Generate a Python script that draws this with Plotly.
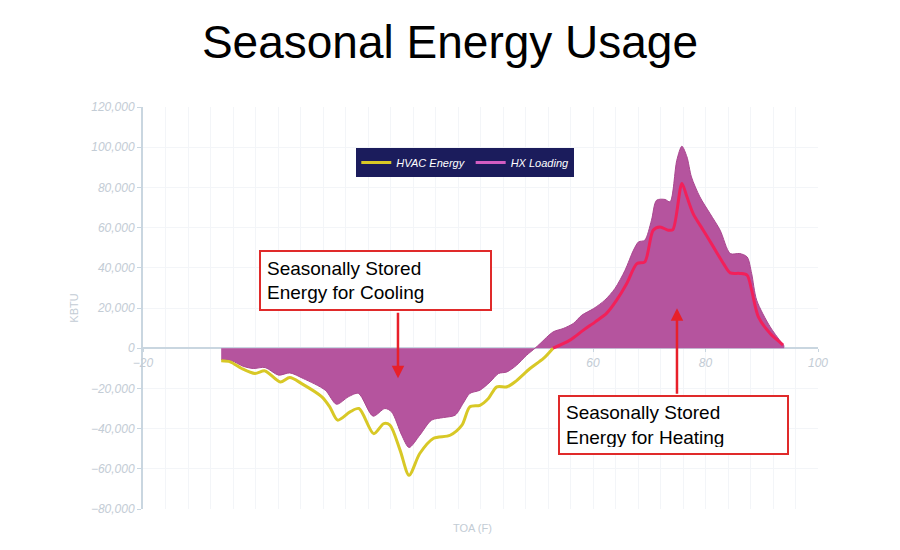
import plotly.graph_objects as go

# ---------------- data ----------------
hx_T = [-6.1, -4.2, -2.2, -0.4, 1.7, 4.1, 6.1, 8.5, 12.4, 14.4, 16.5, 18.3, 20.9, 23.0, 24.2,
        26.0, 27.3, 29.2, 31.3, 33.4, 35.5, 36.9, 38.1, 39.9, 41.7, 43.2, 44.7, 46.4, 48.2, 49.7,
        50.6, 52.9, 54.7, 56.5, 58.0, 60.1, 62.1, 63.9, 65.7, 67.2, 68.1, 69.2, 70.4, 71.3, 72.8,
        73.7, 74.9, 75.8, 76.7, 77.5, 79.0, 80.8, 82.6, 84.4, 86.1, 87.4, 88.2, 89.1, 91.5, 94.0]
hx_V = [-5600, -6300, -9000, -10100, -9600, -13400, -12300, -15100, -20900, -27900, -24200,
        -22500, -33800, -30000, -31700, -43300, -49400, -43300, -35800, -34500, -33300, -27500,
        -22500, -20900, -16800, -12600, -11800, -8500, -3500, 0, 2300, 8100, 9800, 12300, 16400,
        19700, 23900, 29700, 38800, 48800, 52900, 53700, 63700, 73600, 74000, 72800, 93500,
        100500, 95200, 85200, 75300, 67000, 58700, 47100, 47100, 45400, 37200, 23900, 10600, 1000]

hvac_T = [-6.1, -4.5, -2.45, -0.1, 1.7, 4.4, 6.1, 8.2, 11.8, 13.2, 14.6, 16.8, 18.4, 21.0, 22.8,
          23.9, 25.7, 27.3, 29.2, 31.6, 34.6, 36.7, 38.1, 39.9, 41.4, 42.9, 44.7, 46.1, 48.8, 51.2,
          52.9, 55.9, 58.3, 60.4, 62.4, 64.2, 66.0, 67.8, 69.2, 70.7, 71.9, 73.4, 74.2, 75.8, 76.7,
          77.8, 79.6, 81.4, 83.2, 84.4, 86.1, 87.4, 88.2, 89.4, 91.5, 93.5, 93.8]
hvac_V = [-6300, -6800, -10100, -12600, -11300, -16800, -14600, -17600, -24200, -29200, -35800,
          -31700, -30000, -42500, -37500, -38300, -50700, -63200, -52400, -44900, -43300, -38300,
          -29200, -28400, -25000, -19200, -19200, -16800, -10100, -5100, 0, 4000, 9000, 13100,
          17300, 23900, 32200, 42100, 42900, 58700, 60300, 58700, 59000, 82000, 75300, 67000,
          58700, 50400, 42100, 37500, 37200, 36300, 28900, 15600, 7300, 2300, 1500]

x_ticks = [-20, 0, 20, 40, 60, 80, 100]
y_ticks = [-80000, -60000, -40000, -20000, 0, 20000, 40000, 60000, 80000, 100000, 120000]

# split HVAC line at zero crossing (yellow below, red above)
zi = next(i for i, v in enumerate(hvac_V) if v >= 0)
cool_T, cool_V = hvac_T[:zi + 1], hvac_V[:zi + 1]
heat_T, heat_V = hvac_T[zi:], hvac_V[zi:]

YELLOW = "#d8c826"
RED = "#f2205a"
FILL = "#b5549e"
AXIS = "#c9d6e0"
TICKC = "#c3ccd5"
GRID = "#f3f5f8"

fig = go.Figure()
fig.add_trace(go.Scatter(x=hx_T, y=hx_V, mode="lines", fill="tozeroy",
                         fillcolor=FILL, line=dict(color="#a9478f", width=1, shape="spline", smoothing=0.8),
                         showlegend=False, hoverinfo="skip"))
fig.add_trace(go.Scatter(x=cool_T, y=cool_V, mode="lines", name="HVAC Energy",
                         line=dict(color=YELLOW, width=3, shape="spline", smoothing=0.8)))
fig.add_trace(go.Scatter(x=heat_T, y=heat_V, mode="lines", showlegend=False,
                         line=dict(color=RED, width=3, shape="spline", smoothing=0.8)))
fig.add_trace(go.Scatter(x=[None], y=[None], mode="lines", name="HX Loading",
                         line=dict(color="#d35dc2", width=3)))

tickfont = dict(family="Arial", size=12, color=TICKC, style="italic")

fig.update_layout(
    width=900, height=550,
    margin=dict(l=143, r=82, t=107, b=41),
    paper_bgcolor="white", plot_bgcolor="white",
    title=dict(text="Seasonal Energy Usage", x=0.5, xanchor="center", y=1 - 42 / 550,
               yanchor="middle", font=dict(family="Arial", size=46, color="black")),
    xaxis=dict(range=[-20, 100], tickvals=x_ticks, anchor="free", position=0.4,
               showline=True, linecolor=AXIS, linewidth=2, ticks="outside", ticklen=3,
               tickcolor=AXIS, tickfont=tickfont, layer="below traces",
               showgrid=True, gridcolor=GRID, gridwidth=1, zeroline=False,
               minor=dict(dtick=4, tick0=-20, showgrid=True, gridcolor=GRID, gridwidth=1)),
    yaxis=dict(range=[-80000, 120000], tickvals=y_ticks, tickformat=",d",
               showline=True, linecolor=AXIS, linewidth=2, ticks="outside", ticklen=4,
               tickcolor=AXIS, tickfont=tickfont, showgrid=True, gridcolor=GRID,
               zeroline=False, layer="below traces",
               title=dict(text="KBTU", font=dict(family="Arial", size=11, color=TICKC), standoff=10)),
    legend=dict(orientation="h", x=0.316, y=0.898, xanchor="left", yanchor="top",
                bgcolor="#1b1c5c", font=dict(family="Arial", size=11, color="white", style="italic"),
                itemwidth=30, tracegroupgap=0),
    showlegend=True,
)

box_font = dict(family="Arial", size=19, color="black")
fig.add_annotation(text="Seasonally Stored<br>Energy for Cooling", xref="paper", yref="paper",
                   x=(259 - 143) / 675, y=(509 - 250) / 402, xanchor="left", yanchor="top",
                   showarrow=False, align="left", font=box_font, bgcolor="white",
                   bordercolor="#e02a2a", borderwidth=2, borderpad=6, width=217, height=45)
fig.add_annotation(text="Seasonally Stored<br>Energy for Heating", xref="paper", yref="paper",
                   x=(558 - 143) / 675, y=(509 - 395) / 402, xanchor="left", yanchor="top",
                   showarrow=False, align="left", font=box_font, bgcolor="white",
                   bordercolor="#e02a2a", borderwidth=2, borderpad=6, width=215, height=44)
# arrows
fig.add_annotation(x=25.33, y=-14900, ax=0, ay=-67, text="", showarrow=True,
                   arrowhead=2, arrowsize=1, arrowwidth=2.5, arrowcolor="#e8202a")
fig.add_annotation(x=74.93, y=19900, ax=0, ay=87, text="", showarrow=True,
                   arrowhead=2, arrowsize=1, arrowwidth=2.5, arrowcolor="#e8202a")
# x axis title at bottom
fig.add_annotation(text="TOA (F)", xref="paper", yref="paper", x=(472 - 143) / 675, y=-19 / 402,
                   xanchor="center", yanchor="middle", showarrow=False,
                   font=dict(family="Arial", size=11, color=TICKC))

fig.write_html("out.html")
